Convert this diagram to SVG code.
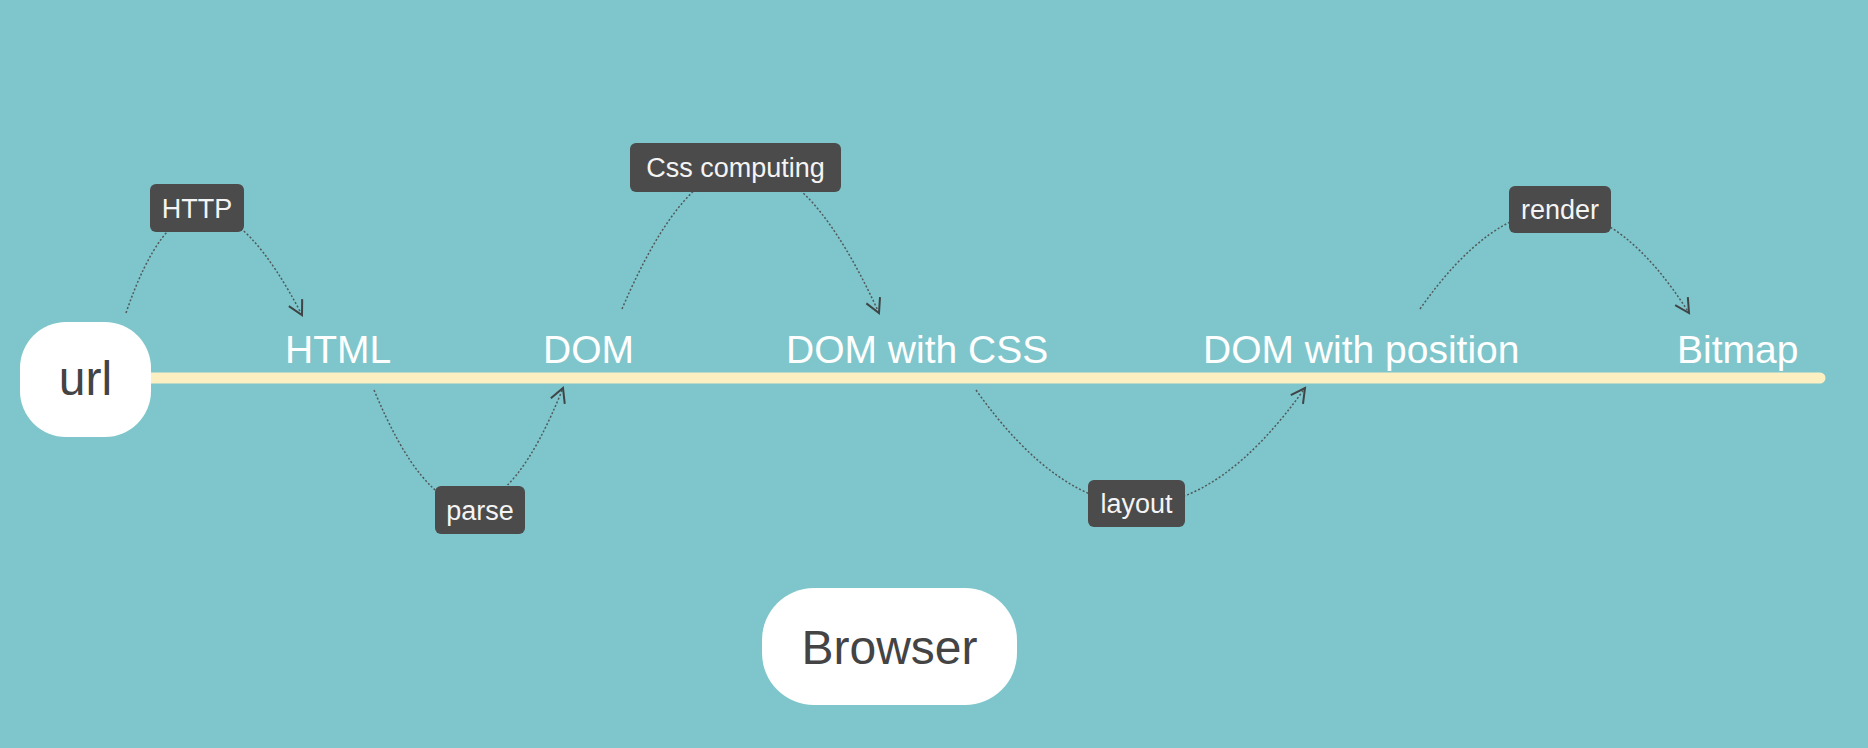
<svg xmlns="http://www.w3.org/2000/svg" width="1868" height="748" viewBox="0 0 1868 748">
  <style>
    .stage { font-family: "Liberation Sans", Arial, sans-serif; font-size: 39px; fill: #ffffff; }
    .pill { fill: #ffffff; }
    .pilltxt { font-family: "Liberation Sans", Arial, sans-serif; font-size: 48px; fill: #444444; text-anchor: middle; }
    .tag { fill: #4b4b4b; }
    .tagtxt { font-family: "Liberation Sans", Arial, sans-serif; font-size: 27px; fill: #f4f4f4; text-anchor: middle; }
    .conn { fill: none; stroke: #505a5c; stroke-width: 1.5; stroke-dasharray: 2 2; }
  </style>
  <defs>
    <marker id="arrow" markerUnits="userSpaceOnUse" viewBox="-16 -10 20 20" refX="0" refY="0" markerWidth="20" markerHeight="20" orient="auto">
      <path d="M-14,-7.5 L0,0 L-14,7.5" fill="none" stroke="#3f4547" stroke-width="2"/>
    </marker>
  </defs>
  <rect width="1868" height="748" fill="#7ec6cb"/>

  <g id="timeline">
    <line x1="130" y1="378" x2="1820" y2="378" stroke="#fcefc2" stroke-width="11" stroke-linecap="round"/>
  </g>

  <g id="connectors">
    <path class="conn" d="M126,313 Q195,110 302,315" marker-end="url(#arrow)"/>
    <path class="conn" d="M374,390 Q470,620 563,388" marker-end="url(#arrow)"/>
    <path class="conn" d="M622,309 Q745,20 879,313" marker-end="url(#arrow)"/>
    <path class="conn" d="M976,390 Q1140,620 1305,388" marker-end="url(#arrow)"/>
    <path class="conn" d="M1420,309 Q1560,110 1689,313" marker-end="url(#arrow)"/>
  </g>

  <g id="url">
    <rect class="pill" x="20" y="322" width="131" height="115" rx="46" ry="46"/>
    <text class="pilltxt" x="85.5" y="395">url</text>
  </g>

  <g id="html"><text class="stage" x="285" y="363">HTML</text></g>
  <g id="dom"><text class="stage" x="543" y="363">DOM</text></g>
  <g id="dom-css"><text class="stage" x="786" y="363">DOM with CSS</text></g>
  <g id="dom-position"><text class="stage" x="1203" y="363">DOM with position</text></g>
  <g id="bitmap"><text class="stage" x="1677" y="363">Bitmap</text></g>

  <g id="label-http">
    <rect class="tag" x="150" y="184" width="94" height="48" rx="6" ry="6"/>
    <text class="tagtxt" x="197" y="217.5">HTTP</text>
  </g>
  <g id="label-parse">
    <rect class="tag" x="435" y="486" width="90" height="48" rx="6" ry="6"/>
    <text class="tagtxt" x="480" y="519.5">parse</text>
  </g>
  <g id="label-css">
    <rect class="tag" x="630" y="143" width="211" height="49" rx="6" ry="6"/>
    <text class="tagtxt" x="735.5" y="177">Css computing</text>
  </g>
  <g id="label-layout">
    <rect class="tag" x="1088" y="480" width="97" height="47" rx="6" ry="6"/>
    <text class="tagtxt" x="1136.5" y="513">layout</text>
  </g>
  <g id="label-render">
    <rect class="tag" x="1509" y="186" width="102" height="47" rx="6" ry="6"/>
    <text class="tagtxt" x="1560" y="219">render</text>
  </g>

  <g id="browser">
    <rect class="pill" x="762" y="588" width="255" height="117" rx="52" ry="52"/>
    <text class="pilltxt" x="889.5" y="664">Browser</text>
  </g>
</svg>
